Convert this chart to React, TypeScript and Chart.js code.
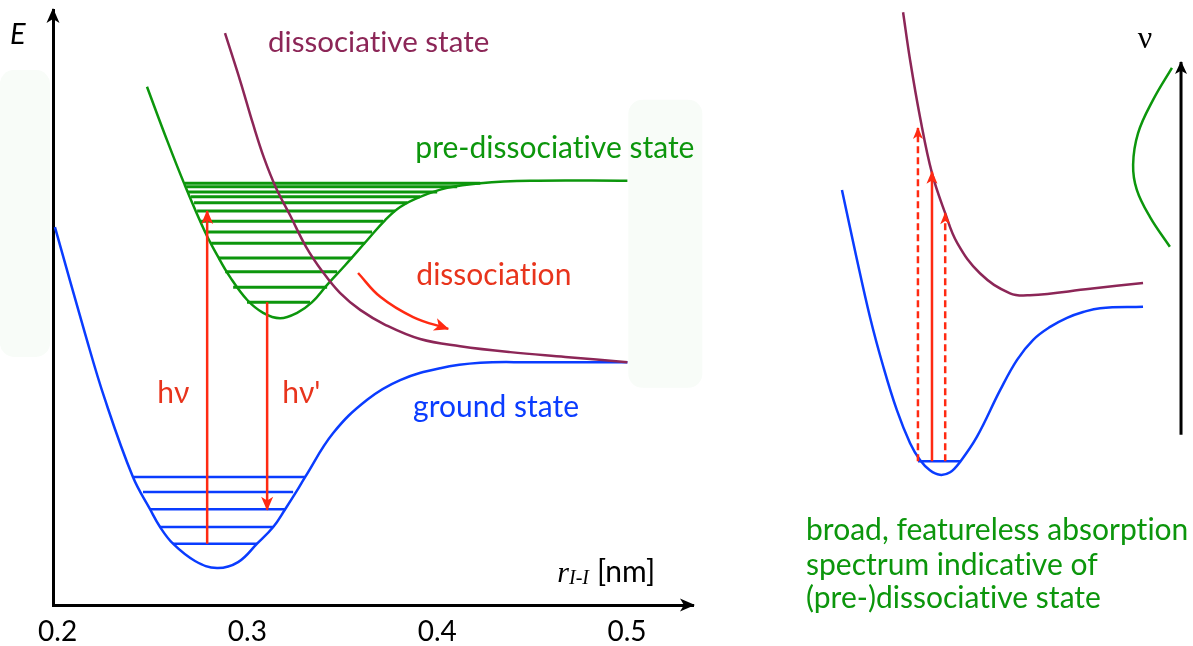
import React, { useEffect, useRef } from "react";
import { Chart, registerables } from "chart.js";

Chart.register(...registerables);

// ---------- Left panel: potential energy curves (r in nm, E in arbitrary units) ----------
const rTicks = [0.2, 0.3, 0.4, 0.5];

const groundR = [0.1986, 0.2144, 0.225, 0.2397, 0.2487, 0.254, 0.2608, 0.2724, 0.284, 0.2951, 0.3051, 0.3136, 0.3199, 0.3257, 0.3304, 0.3452, 0.3631, 0.3805, 0.4016, 0.4227, 0.449, 0.5002];
const groundE = [63.5, 45.7, 34.5, 21.5, 16.1, 13.1, 10.3, 7.4, 6.2, 7.2, 10.3, 13.1, 16.1, 19.0, 21.5, 28.9, 34.5, 37.8, 39.8, 40.7, 40.8, 40.8];

const groundLevelE = [21.5, 19.0, 16.1, 13.1, 10.3];
const groundLevelRLeft = [0.2397, 0.245, 0.2487, 0.254, 0.2608];
const groundLevelRRight = [0.3304, 0.3241, 0.3199, 0.3136, 0.3051];

const preR = [0.2471, 0.2566, 0.2666, 0.2777, 0.2846, 0.2909, 0.2998, 0.3083, 0.3172, 0.3262, 0.3341, 0.342, 0.3515, 0.3631, 0.3726, 0.3805, 0.391, 0.4053, 0.4227, 0.449, 0.5002];
const preE = [87.1, 79.0, 70.9, 62.7, 58.5, 55.1, 51.3, 49.1, 48.2, 49.1, 50.9, 53.8, 57.1, 61.3, 64.7, 66.9, 68.6, 70.1, 70.9, 71.3, 71.3];

const preLevelE = [70.9, 70.3, 69.4, 68.6, 67.6, 66.2, 64.5, 62.7, 60.8, 58.3, 56.0, 53.4, 50.9];
const preLevelRLeft = [0.2671, 0.2677, 0.2687, 0.2703, 0.2719, 0.2735, 0.2756, 0.2777, 0.2809, 0.2846, 0.2883, 0.2925, 0.2998];
const preLevelRRight = [0.4227, 0.4105, 0.4, 0.391, 0.3842, 0.3778, 0.3715, 0.3657, 0.362, 0.3552, 0.3473, 0.342, 0.333];

const dissR = [0.2882, 0.2962, 0.303, 0.3088, 0.3151, 0.3225, 0.3309, 0.3394, 0.3489, 0.3594, 0.3726, 0.391, 0.4121, 0.4385, 0.4675, 0.5002];
const dissE = [96.1, 88.1, 80.8, 75.1, 70.1, 65.5, 60.2, 56.1, 52.4, 49.6, 47.1, 44.7, 43.5, 42.5, 41.7, 40.8];

const hvR = [0.2788, 0.2788];
const hvE = [10.3, 66.2];
const hvPrimeR = [0.3104, 0.3104];
const hvPrimeE = [50.9, 16.0];
const flowR = [0.3583, 0.37, 0.3873, 0.4058];
const flowE = [55.8, 51.8, 48.4, 46.4];

// ---------- Right panel: schematic (arbitrary units 0..100) ----------
const sGroundX = [15.0, 18.4, 21.8, 24.9, 28.3, 31.5, 33.9, 36.3, 38.7, 41.2, 43.6, 47.7, 53.3, 57.4, 61.3, 65.4, 69.5, 73.4, 77.5, 87.9];
const sGroundY = [70.6, 60.5, 50.9, 43.5, 36.5, 31.4, 28.8, 27.2, 26.5, 26.9, 28.5, 32.4, 39.6, 44.3, 47.4, 49.4, 50.8, 51.7, 52.3, 52.5];
const sDissX = [29.8, 31.5, 33.9, 36.8, 40.0, 42.9, 48.4, 55.7, 60.5, 75.1, 87.9];
const sDissY = [98.1, 90.7, 81.9, 73.2, 67.0, 62.4, 57.7, 54.6, 54.3, 55.3, 56.2];
const sLevelX = [33.4, 43.6];
const sLevelY = 28.6;
const sArrowX = [33.4, 36.8, 40.0];
const sArrowTop = [80.2, 73.4, 67.0];
const sArrowDashed = [true, false, true];
const bandX = [94.9, 90.3, 86.7, 85.5, 86.4, 89.6, 94.4];
const bandY = [89.5, 84.5, 79.4, 74.5, 70.6, 66.4, 61.8];
const nuAxisX = 97.1;
const nuAxisY = [32.7, 90.4];

// ---------- styles ----------
const BLUE = "#0a3cff";
const GREEN = "#0c960c";
const MAROON = "#8c2657";
const RED = "#ff2a12";
const RED_TEXT = "#e8341c";
const SANS = "Lato, 'Noto Sans', sans-serif";
const SERIF = "'Liberation Serif', 'DejaVu Serif', serif";

const pts = (xs: number[], ys: number[]) => xs.map((x, i) => ({ x, y: ys[i] }));

const line = (data: any[], color: string, extra: any = {}) => ({
  type: "scatter",
  data,
  showLine: true,
  borderColor: color,
  backgroundColor: color,
  borderWidth: 2.5,
  pointRadius: 0,
  pointHoverRadius: 0,
  fill: false,
  ...extra,
});

function drawHead(ctx: CanvasRenderingContext2D, x0: number, y0: number, x1: number, y1: number, len: number, half: number, color: string) {
  const ang = Math.atan2(y1 - y0, x1 - x0);
  ctx.save();
  ctx.translate(x1, y1);
  ctx.rotate(ang);
  ctx.beginPath();
  ctx.moveTo(1, 0);
  ctx.lineTo(-len, -half);
  ctx.lineTo(-len * 0.72, 0);
  ctx.lineTo(-len, half);
  ctx.closePath();
  ctx.fillStyle = color;
  ctx.fill();
  ctx.restore();
}

const arrowPlugin = {
  id: "arrowHeads",
  afterDatasetsDraw(chart: any) {
    const ctx = chart.ctx;
    chart.data.datasets.forEach((ds: any, i: number) => {
      if (!ds.arrow) return;
      const d = chart.getDatasetMeta(i).data;
      const a = d[d.length - 2];
      const b = d[d.length - 1];
      drawHead(ctx, a.x, a.y, b.x, b.y, ds.arrow.len, ds.arrow.half, ds.borderColor);
    });
  },
};

function text(ctx: CanvasRenderingContext2D, s: string, x: number, y: number, font: string, color: string, align: CanvasTextAlign = "left", base: CanvasTextBaseline = "alphabetic") {
  ctx.save();
  ctx.font = font;
  (ctx as any).textRendering = "optimizeSpeed";
  (ctx as any).letterSpacing = "0.01px";
  ctx.fillStyle = color;
  ctx.textAlign = align;
  ctx.textBaseline = base;
  ctx.fillText(s, x, y);
  ctx.restore();
}

const leftDecor = {
  id: "leftDecor",
  beforeDatasetsDraw(chart: any) {
    const { ctx, scales } = chart;
    const X = (v: number) => scales.x.getPixelForValue(v);
    const Y = (v: number) => scales.y.getPixelForValue(v);
    ctx.save();
    ctx.fillStyle = "#f8fcf8";
    const boxes = [
      [0.1696, 0.196, 89.9, 41.7],
      [0.5007, 0.5397, 84.9, 36.5],
    ];
    boxes.forEach(([r0, r1, e0, e1]) => {
      ctx.beginPath();
      (ctx as any).roundRect(X(r0), Y(e0), X(r1) - X(r0), Y(e1) - Y(e0), 14);
      ctx.fill();
    });
    ctx.restore();
  },
  afterDraw(chart: any) {
    const { ctx, scales, chartArea } = chart;
    const X = (v: number) => scales.x.getPixelForValue(v);
    const Y = (v: number) => scales.y.getPixelForValue(v);
    // axis arrow heads
    drawHead(ctx, chartArea.left, chartArea.bottom, chartArea.right + 1, chartArea.bottom, 14, 6.5, "#000");
    drawHead(ctx, chartArea.left, chartArea.bottom, chartArea.left, chartArea.top - 1, 14, 6.5, "#000");
    const f = `30px ${SANS}`;
    text(ctx, "E", X(0.1791), Y(95.8), `italic 29px ${SANS}`, "#000", "center", "middle");
    text(ctx, "dissociative state", X(0.3109), Y(92.9), `29.5px ${SANS}`, MAROON);
    text(ctx, "pre-dissociative state", X(0.3885), Y(75.1), f, GREEN);
    text(ctx, "dissociation", X(0.389), Y(53.8), f, RED_TEXT);
    text(ctx, "h\u03bd", X(0.2525), Y(33.9), f, RED_TEXT);
    text(ctx, "h\u03bd'", X(0.3183), Y(33.9), f, RED_TEXT);
    text(ctx, "ground state", X(0.3873), Y(31.6), f, BLUE);
    // axis title r_{I-I} [nm]
    let x = X(0.4633);
    const y = Y(3.9);
    ctx.save();
    ctx.font = `italic 30px ${SERIF}`;
    ctx.fillStyle = "#000";
    ctx.fillText("r", x, y);
    x += ctx.measureText("r").width;
    ctx.font = `italic 20px ${SERIF}`;
    ctx.fillText("I-I", x, y + 2);
    x += ctx.measureText("I-I").width + 8;
    ctx.font = `30px ${SANS}`;
    ctx.fillText("[nm]", x, y);
    ctx.restore();
  },
};

const rightDecor = {
  id: "rightDecor",
  afterDraw(chart: any) {
    const { ctx, scales } = chart;
    const X = (v: number) => scales.x.getPixelForValue(v);
    const Y = (v: number) => scales.y.getPixelForValue(v);
    text(ctx, "\u03bd", X(88.4), Y(93.8), `32px ${SERIF}`, "#000", "center", "middle");
    const f = `30px ${SANS}`;
    text(ctx, "broad, featureless absorption", X(6.3), Y(16.4), f, GREEN);
    text(ctx, "spectrum indicative of", X(6.3), Y(11.0), f, GREEN);
    text(ctx, "(pre-)dissociative state", X(6.3), Y(5.9), f, GREEN);
  },
};

const SMOOTH = { tension: 0.4 };

function leftConfig(): any {
  const layers: any[] = [];
  groundLevelE.forEach((e, i) =>
    layers.push(line(pts([groundLevelRLeft[i], groundLevelRRight[i]], [e, e]), BLUE))
  );
  layers.push(line(pts(groundR, groundE), BLUE, SMOOTH));
  preLevelE.forEach((e, i) =>
    layers.push(line(pts([preLevelRLeft[i], preLevelRRight[i]], [e, e]), GREEN, { borderWidth: 3 }))
  );
  layers.push(line(pts(preR, preE), GREEN, SMOOTH));
  layers.push(line(pts(dissR, dissE), MAROON, SMOOTH));
  layers.push(line(pts(hvR, hvE), RED, { arrow: { len: 13, half: 6 } }));
  layers.push(line(pts(hvPrimeR, hvPrimeE), RED, { arrow: { len: 13, half: 6 } }));
  layers.push(line(pts(flowR, flowE), RED, { tension: 0.4, arrow: { len: 14, half: 6.5 } }));

  return {
    type: "scatter",
    data: { datasets: layers.reverse() },
    options: {
      responsive: false,
      animation: false,
      layout: { padding: { left: 53, right: 87, top: 10, bottom: 0 } },
      plugins: { legend: { display: false }, tooltip: { enabled: false } },
      events: [],
      scales: {
        x: {
          type: "linear",
          min: 0.19758,
          max: 0.53477,
          afterBuildTicks: (s: any) => {
            s.ticks = rTicks.map((v) => ({ value: v }));
          },
          afterFit: (s: any) => {
            s.height = 41;
          },
          grid: { display: false, drawTicks: false },
          border: { display: true, color: "#000", width: 3 },
          ticks: {
            color: "#000",
            padding: 10,
            maxRotation: 0,
            autoSkip: false,
            font: { family: SANS, size: 28 },
            callback: (v: any) => Number(v).toFixed(1),
          },
        },
        y: {
          type: "linear",
          min: 0,
          max: 100,
          afterFit: (s: any) => {
            s.width = 0;
          },
          grid: { display: false, drawTicks: false },
          border: { display: true, color: "#000", width: 3 },
          ticks: { display: false },
        },
      },
    },
    plugins: [leftDecor, arrowPlugin],
  };
}

function rightConfig(): any {
  const layers: any[] = [];
  layers.push(line(pts(sGroundX, sGroundY), BLUE, SMOOTH));
  layers.push(line(pts(sLevelX, [sLevelY, sLevelY]), BLUE));
  layers.push(line(pts(sDissX, sDissY), MAROON, SMOOTH));
  sArrowX.forEach((x, i) =>
    layers.push(
      line(pts([x, x], [sLevelY, sArrowTop[i]]), RED, {
        borderDash: sArrowDashed[i] ? [7, 4] : [],
        arrow: sArrowDashed[i] ? { len: 11, half: 5 } : { len: 12, half: 5.5 },
      })
    )
  );
  layers.push(line(pts(bandX, bandY), GREEN, { tension: 0.4 }));
  layers.push(line(pts([nuAxisX, nuAxisX], nuAxisY), "#000", { borderWidth: 3, arrow: { len: 12, half: 6 } }));

  return {
    type: "scatter",
    data: { datasets: layers.reverse() },
    options: {
      responsive: false,
      animation: false,
      layout: { padding: 0 },
      plugins: { legend: { display: false }, tooltip: { enabled: false } },
      events: [],
      scales: {
        x: { type: "linear", min: 0, max: 100, display: false },
        y: { type: "linear", min: 0, max: 100, display: false },
      },
    },
    plugins: [rightDecor, arrowPlugin],
  };
}

export default function App() {
  const leftRef = useRef<HTMLCanvasElement>(null);
  const rightRef = useRef<HTMLCanvasElement>(null);
  useEffect(() => {
    const left = new Chart(leftRef.current as HTMLCanvasElement, leftConfig());
    const right = new Chart(rightRef.current as HTMLCanvasElement, rightConfig());
    return () => {
      left.destroy();
      right.destroy();
    };
  }, []);
  return (
    <div style={{ position: "fixed", left: 0, top: 0, width: 1193, height: 646, background: "#fff" }}>
      <canvas ref={leftRef} width={780} height={646} style={{ position: "absolute", left: 0, top: 0 }} />
      <canvas ref={rightRef} width={413} height={646} style={{ position: "absolute", left: 780, top: 0 }} />
    </div>
  );
}
